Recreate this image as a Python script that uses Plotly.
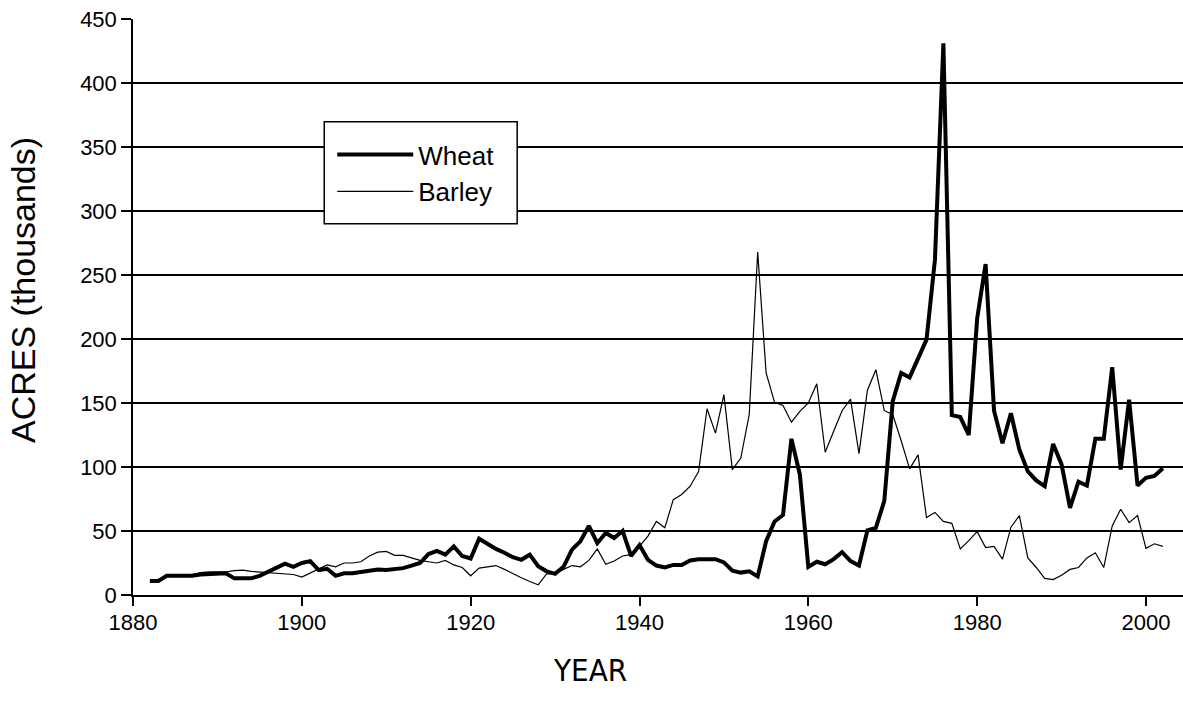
import plotly.graph_objects as go

years = list(range(1882, 2003))

wheat = [11, 11, 15, 15, 15, 15, 16, 16.5, 17, 17,
         13, 13, 13, 15, 18, 21, 24.5, 22, 25, 26.5,
         19.5, 20.5, 15, 17, 17, 18, 19, 20, 19.5, 20,
         21, 23, 25, 32, 34.5, 31.5, 38, 30.5, 28.5, 44,
         40, 36, 33, 29.5, 27.5, 31.5, 22.5, 18.5, 16.5, 22,
         35.5, 42, 54, 40.5, 48.5, 44.5, 50, 30.5, 39, 27.5,
         23, 21.5, 23.5, 23.5, 27, 28, 28, 28, 25.5, 19,
         17.5, 18.5, 14.5, 42, 57.5, 62.5, 122, 94, 22, 26,
         24, 28, 33.5, 26.5, 23, 50.5, 52.5, 73.5, 151.5, 173.5,
         170, 185, 199.5, 262, 431, 140.5, 139, 125, 216, 258.5,
         144, 118.5, 142, 113.5, 96.5, 89.5, 85, 118, 102, 68,
         88.5, 85.5, 122, 122, 178, 98, 152.5, 85.5, 91.5, 93,
         99]

barley = [12, 12, 15, 15, 15.5, 16, 17.5, 18, 18, 18,
          19, 19.5, 18.5, 18, 17.5, 17.5, 17, 16, 14, 17,
          20, 23.5, 22, 25, 25, 26, 30.5, 33.5, 34, 31,
          31, 29, 27, 26, 25, 27, 23.5, 21.5, 15, 21,
          22, 23, 20, 16.5, 13.5, 10.5, 8, 16.5, 16.5, 20,
          23, 22, 27, 36, 24, 26.5, 30.5, 31.5, 38, 46,
          57.5, 52.5, 74.5, 78.5, 85, 96.5, 145.5, 126.5, 156.5, 98,
          107, 141, 268, 173.5, 150.5, 148, 135, 143.5, 150, 165,
          111.5, 128, 144, 153, 110.5, 160, 176, 144, 141, 120.5,
          98.5, 109.5, 60.5, 64.5, 57.5, 56, 36, 42.5, 49.5, 37,
          38, 28, 53, 62, 29, 21.5, 13, 12, 15.5, 20,
          21.5, 29, 33, 21.5, 54, 67, 56.5, 62, 36.5, 40,
          38]

x_ticks = [1880, 1900, 1920, 1940, 1960, 1980, 2000]
y_ticks = [0, 50, 100, 150, 200, 250, 300, 350, 400, 450]

FONT = "Liberation Sans, Arial, sans-serif"
NARROW = "Liberation Sans Narrow, Arial Narrow, DejaVu Sans Condensed, Liberation Sans, Arial, sans-serif"

W, H = 1183, 708
L, T = 132.7, 19.3
BOT = 595.3
B = H - BOT
PW, PH = W - L, BOT - T


def px(xp):
    return (xp - L) / PW


def py(yp):
    return (BOT - yp) / PH


fig = go.Figure()
fig.add_trace(go.Scatter(x=years, y=wheat, mode="lines", name="Wheat",
                         line=dict(color="black", width=4)))
fig.add_trace(go.Scatter(x=years, y=barley, mode="lines", name="Barley",
                         line=dict(color="black", width=1.2)))

fig.update_layout(
    width=W, height=H,
    margin=dict(l=L, r=0, t=T, b=B, pad=0),
    paper_bgcolor="white", plot_bgcolor="white",
    font=dict(family=FONT, size=22, color="black"),
    showlegend=True,
    legend=dict(x=px(332), y=py(173.4),
                xanchor="left", yanchor="middle",
                borderwidth=0, bgcolor="rgba(0,0,0,0)",
                font=dict(family=FONT, size=26, color="black"),
                itemwidth=76, tracegroupgap=0),
    xaxis=dict(range=[1880, 1880 + PW / 8.444], tickvals=x_ticks,
               showgrid=False, zeroline=False, showline=True,
               linecolor="black", linewidth=1.5, ticks="outside",
               ticklen=9, tickwidth=1.5, tickcolor="black",
               ticklabelstandoff=-2,
               tickfont=dict(family=FONT, size=22)),
    yaxis=dict(range=[0, 450], tickvals=y_ticks,
               showgrid=True, gridcolor="black", gridwidth=2,
               zeroline=False, showline=True,
               linecolor="black", linewidth=1.5, ticks="outside",
               ticklen=10, tickwidth=1.5, tickcolor="black",
               tickfont=dict(family=FONT, size=22)),
    shapes=[
        dict(type="rect", xref="paper", yref="paper",
             x0=px(324), x1=px(517), y0=py(224), y1=py(122),
             line=dict(color="black", width=1.5), fillcolor="white",
             layer="above"),
    ],
    annotations=[
        dict(text="YEAR", xref="paper", yref="paper",
             x=px(590), y=py(670),
             showarrow=False, font=dict(family=NARROW, size=31),
             xanchor="center", yanchor="middle"),
        dict(text="ACRES (thousands)", xref="paper", yref="paper",
             x=px(22), y=py(290),
             showarrow=False, textangle=-90, font=dict(family=FONT, size=34),
             xanchor="center", yanchor="middle"),
    ],
)

fig.write_html(
    "out.html",
    config={"displayModeBar": False},
    post_script="document.body.style.margin='0';document.body.style.padding='0';document.body.style.overflow='hidden';",
)
